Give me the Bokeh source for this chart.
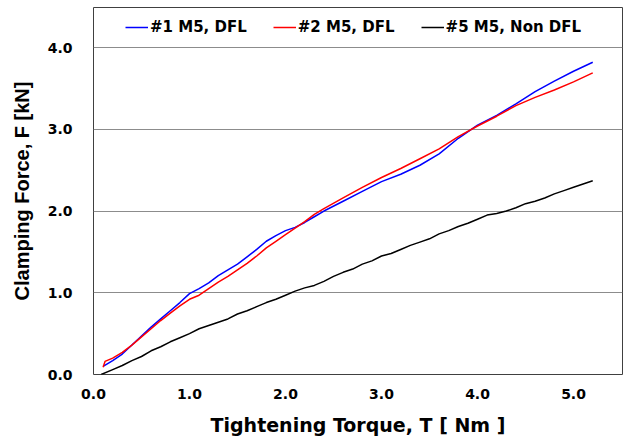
from bokeh.plotting import figure
from bokeh.models import FixedTicker, NumeralTickFormatter, Range1d
from bokeh.embed import file_html
from bokeh.resources import INLINE

# Tightening torque [Nm] / clamping force [kN]
x_dfl1 = [0.10, 0.20, 0.30, 0.40, 0.50, 0.60, 0.70, 0.80, 0.90, 1.00, 1.10, 1.20,
          1.30, 1.40, 1.50, 1.60, 1.70, 1.80, 1.90, 2.00, 2.10, 2.20, 2.30, 2.40,
          2.60, 2.80, 3.00, 3.20, 3.40, 3.60, 3.80, 4.00, 4.20, 4.40, 4.60, 4.80,
          5.00, 5.20]
y_dfl1 = [0.10, 0.17, 0.25, 0.36, 0.47, 0.58, 0.68, 0.78, 0.88, 0.99, 1.05, 1.12,
          1.21, 1.28, 1.35, 1.44, 1.53, 1.63, 1.70, 1.76, 1.80, 1.86, 1.93, 2.00,
          2.12, 2.24, 2.36, 2.45, 2.56, 2.70, 2.89, 3.05, 3.17, 3.31, 3.46, 3.59,
          3.71, 3.82]

x_dfl2 = [0.10, 0.12, 0.20, 0.30, 0.40, 0.50, 0.60, 0.70, 0.80, 0.90, 1.00, 1.10,
          1.20, 1.30, 1.40, 1.50, 1.60, 1.70, 1.80, 1.90, 2.00, 2.10, 2.20, 2.30,
          2.40, 2.60, 2.80, 3.00, 3.20, 3.40, 3.60, 3.80, 4.00, 4.20, 4.40, 4.60,
          4.80, 5.00, 5.20]
y_dfl2 = [0.09, 0.16, 0.20, 0.27, 0.36, 0.46, 0.56, 0.66, 0.75, 0.84, 0.92, 0.97,
          1.05, 1.13, 1.20, 1.28, 1.36, 1.45, 1.55, 1.63, 1.71, 1.79, 1.87, 1.96,
          2.03, 2.16, 2.29, 2.41, 2.52, 2.64, 2.76, 2.91, 3.04, 3.16, 3.29, 3.39,
          3.48, 3.58, 3.69]

x_non = [0.08, 0.20, 0.30, 0.40, 0.50, 0.60, 0.70, 0.80, 0.90, 1.00, 1.10, 1.20,
         1.30, 1.40, 1.50, 1.60, 1.70, 1.80, 1.90, 2.00, 2.10, 2.20, 2.30, 2.40,
         2.50, 2.60, 2.70, 2.80, 2.90, 3.00, 3.10, 3.20, 3.30, 3.40, 3.50, 3.60,
         3.70, 3.80, 3.90, 4.00, 4.10, 4.20, 4.30, 4.40, 4.50, 4.60, 4.70, 4.80,
         4.90, 5.00, 5.10, 5.20]
y_non = [0.00, 0.06, 0.11, 0.17, 0.22, 0.29, 0.34, 0.40, 0.45, 0.50, 0.56, 0.60,
         0.64, 0.68, 0.74, 0.78, 0.83, 0.88, 0.92, 0.97, 1.02, 1.06, 1.09, 1.14,
         1.20, 1.25, 1.29, 1.35, 1.39, 1.45, 1.48, 1.53, 1.58, 1.62, 1.66, 1.72,
         1.76, 1.81, 1.85, 1.90, 1.95, 1.97, 2.00, 2.04, 2.09, 2.12, 2.16, 2.21,
         2.25, 2.29, 2.33, 2.37]

x_ticks = [0, 1, 2, 3, 4, 5]
y_ticks = [0, 1, 2, 3, 4]

p = figure(width=624, height=440, output_backend="svg", toolbar_location=None,
           x_range=Range1d(0, 5.51), y_range=Range1d(0, 4.49),
           min_border_left=93, min_border_right=2, min_border_top=7,
           min_border_bottom=66)

p.line(x_dfl1, y_dfl1, line_color="#0000FF", line_width=1.5, legend_label="#1 M5, DFL")
p.line(x_dfl2, y_dfl2, line_color="#FF0000", line_width=1.5, legend_label="#2 M5, DFL")
p.line(x_non, y_non, line_color="#000000", line_width=1.5, legend_label="#5 M5, Non DFL")

p.outline_line_color = "#404040"
p.outline_line_width = 1
p.xgrid.grid_line_color = None
p.ygrid.grid_line_color = "#8c8c8c"
p.ygrid.grid_line_width = 1

for ax in (p.xaxis[0], p.yaxis[0]):
    ax.axis_line_color = None
    ax.major_tick_line_color = None
    ax.minor_tick_line_color = None
    ax.major_tick_out = 0
    ax.major_tick_in = 0
    ax.major_label_text_font = "DejaVu Sans"
    ax.major_label_text_font_style = "bold"
    ax.major_label_text_font_size = "14px"
    ax.major_label_text_color = "#000000"
    ax.axis_label_text_font_style = "bold"
    ax.axis_label_text_color = "#000000"
    ax.formatter = NumeralTickFormatter(format="0.0")

p.xaxis.axis_label_text_font = "DejaVu Sans"
p.xaxis.axis_label_text_font_size = "19px"
p.yaxis.axis_label_text_font = "Liberation Sans"
p.yaxis.axis_label_text_font_size = "20px"

p.xaxis.ticker = FixedTicker(ticks=x_ticks)
p.yaxis.ticker = FixedTicker(ticks=y_ticks)
p.xaxis.axis_label = "Tightening Torque, T [\u00a0Nm\u00a0]"
p.yaxis.axis_label = "Clamping Force, F [kN]"
p.xaxis.major_label_standoff = 14
p.xaxis.axis_label_standoff = 12
p.yaxis.major_label_standoff = 21
p.yaxis.axis_label_standoff = 12

lg = p.legend[0]
lg.orientation = "horizontal"
lg.location = (32, 337)
lg.margin = 0
lg.padding = 0
lg.spacing = 26
lg.glyph_width = 23
lg.glyph_height = 20
lg.label_height = 20
lg.label_standoff = 2
lg.background_fill_alpha = 0
lg.border_line_color = None
lg.label_text_font = "DejaVu Sans"
lg.label_text_font_style = "bold"
lg.label_text_font_size = "15px"
lg.label_text_color = "#000000"

open("out.html", "w").write(file_html(p, INLINE))
